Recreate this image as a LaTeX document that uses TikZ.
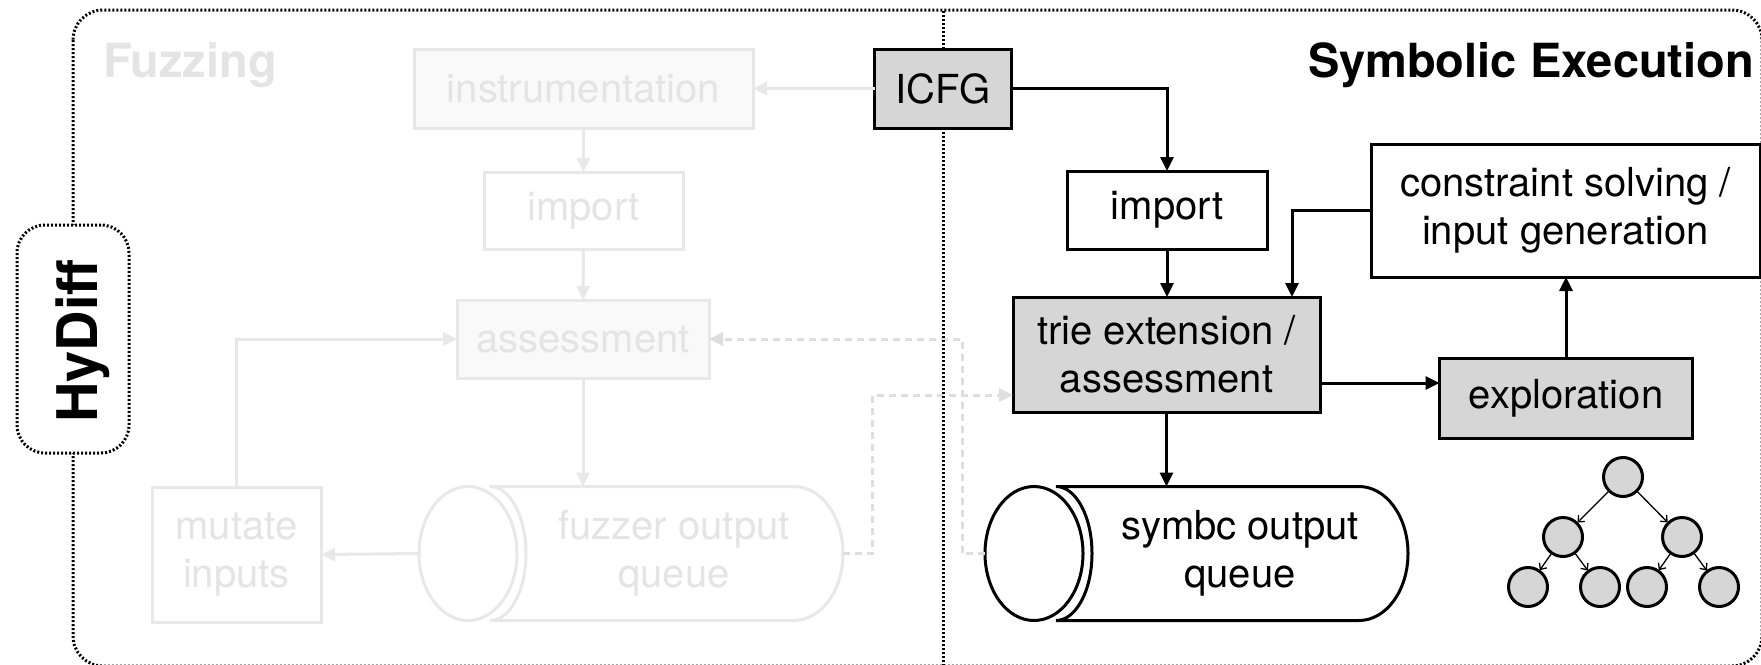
\documentclass[tikz,border=0pt]{standalone}
\usepackage{fontspec}
\setmainfont{TeX Gyre Heros}
\usetikzlibrary{arrows.meta}
\definecolor{fadeline}{RGB}{232,232,232}
\definecolor{fadefill}{RGB}{249,249,249}
\definecolor{fadetext}{RGB}{228,228,228}
\definecolor{dashgray}{RGB}{222,222,222}
\definecolor{boxgray}{RGB}{214,214,214}

% horizontal queue: #1 style, #2 centre x of the front cap, #3 right end x, #4 centre y
\newcommand\queueshape[4]{%
  \path[#1] (#2+22,#4-67) -- (#3-49,#4-67)
    arc[start angle=90,end angle=-90,x radius=49pt,y radius=67pt]
    -- (#2+22,#4+67)
    arc[start angle=-90,end angle=90,x radius=36pt,y radius=67pt] -- cycle;
  \path[#1] (#2,#4) ellipse[x radius=49pt,y radius=67pt];
}

\begin{document}
\begin{tikzpicture}[x=1pt,y=-1pt,
  every node/.style={inner sep=0pt, outer sep=0pt, align=center,
    font=\fontsize{40}{48}\selectfont},
  sebox/.style={draw=black, line width=3pt, fill=white},
  segray/.style={sebox, fill=boxgray},
  fzbox/.style={draw=fadeline, line width=3pt, fill=white, text=fadetext},
  fzfill/.style={fzbox, fill=fadefill},
  arr/.style={line width=3pt, -{Triangle[length=14pt,width=13pt]}},
  farr/.style={arr, color=fadeline},
  darr/.style={arr, color=dashgray, dash pattern=on 7pt off 5pt},
  dots/.style={line width=3pt, dash pattern=on 2pt off 2pt},
  title/.style={font=\fontsize{47}{56}\selectfont\bfseries},
  tnode/.style={circle, draw=black, line width=3pt, fill=boxgray, minimum size=39pt},
  tarr/.style={line width=1.3pt, shorten >=1pt, -{Straight Barb[length=5pt,width=9pt]}},
]
\useasboundingbox (0,0) rectangle (1761,664);

% outer frame
\draw[dots, rounded corners=30pt] (73,10) rectangle (1762,666);

% HyDiff tab on the left edge
\node[draw=black, dots, rounded corners=28pt, fill=white,
      minimum width=112pt, minimum height=228pt] (hydiff) at (73,339) {};
\node[rotate=90, anchor=base, font=\fontsize{56}{60}\selectfont\bfseries]
      (hydifflabel) at (97,341) {HyDiff};

% ---------------- fuzzing side (faded) ----------------
\node[title, text=fadetext, anchor=base west] (fuzztitle) at (103,77) {Fuzzing};
\node[fzfill, minimum width=339pt, minimum height=79pt] (instr) at (583.5,88.5) {instrumentation};
\node[fzbox, minimum width=199pt, minimum height=77pt] (imp1) at (583.5,210.5) {import};
\node[fzfill, minimum width=252pt, minimum height=78pt] (assess1) at (583,339) {assessment};
\node[fzbox, minimum width=169pt, minimum height=135pt] (mutate) at (236.5,554.5) {mutate\\inputs};

\queueshape{draw=fadeline, line width=3pt, fill=white}{468}{843}{553.5}
\node[minimum width=424pt, minimum height=134pt] (fq) at (631,553.5) {};
\node[text=fadetext] (fqtext) at (674,553.5) {fuzzer output\\queue};

% ---------------- symbolic execution side ----------------
\node[title, anchor=base west] (setitle) at (1308,77) {Symbolic Execution};
\node[segray, minimum width=137pt, minimum height=79pt] (icfg) at (943,88.5) {ICFG};
\node[sebox, minimum width=200pt, minimum height=78pt] (imp2) at (1167,210) {import};
\node[sebox, minimum width=389pt, minimum height=133pt] (cons) at (1565.5,210.5)
      {constraint solving /\\input generation};
\node[segray, minimum width=307pt, minimum height=115pt] (trie) at (1166.5,354.5)
      {trie extension /\\assessment};
\node[segray, minimum width=253pt, minimum height=80pt] (expl) at (1566,398) {exploration};

\queueshape{draw=black, line width=3pt, fill=white}{1034}{1408}{553.5}
\node[minimum width=423pt, minimum height=134pt] (sq) at (1196.5,553.5) {};
\node (sqtext) at (1240,553.5) {symbc output\\queue};

% exploration tree
\node[tnode] (t0) at (1623,477) {};
\node[tnode] (t1) at (1563,537) {};
\node[tnode] (t2) at (1682,537) {};
\node[tnode] (t3) at (1528,587) {};
\node[tnode] (t4) at (1600,587) {};
\node[tnode] (t5) at (1647,587) {};
\node[tnode] (t6) at (1719,587) {};
\draw[tarr] (t0) -- (t1);
\draw[tarr] (t0) -- (t2);
\draw[tarr] (t1) -- (t3);
\draw[tarr] (t1) -- (t4);
\draw[tarr] (t2) -- (t5);
\draw[tarr] (t2) -- (t6);

% exchange between the two sides
\draw[darr] (sq.west) -- ++(-23,0) |- (assess1.east);
\draw[darr] (fq.east) -- ++(29,0) |- ([yshift=-40.5pt]trie.west);

% separator between the two sides
\draw[dots] (icfg.north) -- (943,10);
\draw[dots] (icfg.south) -- (943,666);

% fuzzing flow
\draw[farr] (icfg.west) -- (instr.east);
\draw[farr] (instr) -- (imp1);
\draw[farr] (imp1) -- (assess1);
\draw[farr] (assess1.south) -- (assess1.south |- fq.north);
\draw[farr] (fq.west) -- (mutate.east);
\draw[farr] (mutate.north) |- (assess1.west);

% symbolic execution flow
\draw[arr] (icfg.east) -| (imp2.north);
\draw[arr] (imp2.south) -- (imp2.south |- trie.north);
\draw[arr] (cons.west) -| ([xshift=125.5pt]trie.north);
\draw[arr] ([yshift=-28.5pt]trie.east) -- ([yshift=-28.5pt]trie.east -| expl.west);
\draw[arr] (expl.north) -- (expl.north |- cons.south);
\draw[arr] (trie.south) -- (trie.south |- sq.north);
\end{tikzpicture}
\end{document}
